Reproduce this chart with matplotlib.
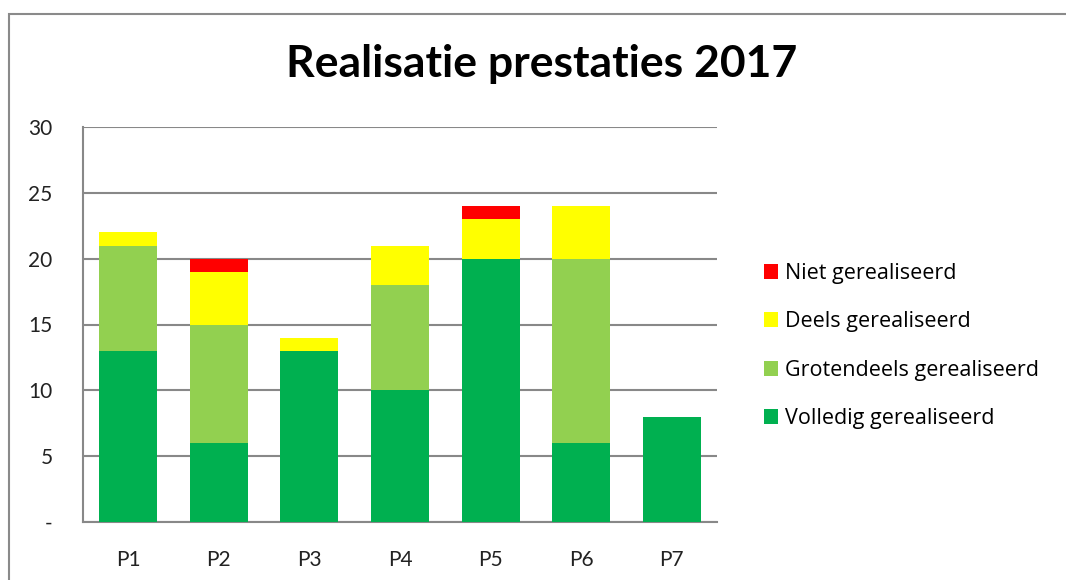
import matplotlib
matplotlib.use("Agg")
import matplotlib.pyplot as plt
from matplotlib.patches import Rectangle, Patch
import numpy as np

categories = ["P1", "P2", "P3", "P4", "P5", "P6", "P7"]
volledig = [13, 6, 13, 10, 20, 6, 8]
grotendeels = [8, 9, 0, 8, 0, 14, 0]
deels = [1, 4, 1, 3, 3, 4, 0]
niet = [0, 1, 0, 0, 1, 0, 0]
series_names = ["Volledig gerealiseerd", "Grotendeels gerealiseerd",
                "Deels gerealiseerd", "Niet gerealiseerd"]
colors = ["#00B050", "#92D050", "#FFFF00", "#FF0000"]
yticks = [0, 5, 10, 15, 20, 25, 30]
ytick_labels = ["-", "5", "10", "15", "20", "25", "30"]
title = "Realisatie prestaties 2017"

plt.rcParams['font.family'] = ['Lato', 'DejaVu Sans']

fig = plt.figure(figsize=(10.66, 5.8), dpi=100)
fig.patch.set_facecolor("white")

# outer chart frame (cropped at right/bottom)
W, H = 1066, 580
frame = Rectangle((9 / W, -0.1), 1.2, 1 - 14 / H + 0.1, transform=fig.transFigure,
                  fill=False, edgecolor="#8a8a8a", linewidth=1.5, clip_on=False)
fig.patches.append(frame)

ax = fig.add_axes([83 / W, 1 - 522 / H, (717 - 83) / W, (522 - 127) / H])
x = np.arange(len(categories))
data = [volledig, grotendeels, deels, niet]
bottom = np.zeros(len(categories))
for vals, name, c in zip(data, series_names, colors):
    ax.bar(x, vals, width=0.64, bottom=bottom, color=c, label=name, zorder=3)
    bottom += np.array(vals)

ax.set_xlim(-0.5, len(categories) - 0.5)
ax.set_ylim(0, 30)
ax.set_yticks(yticks)
ax.set_yticklabels(ytick_labels)
ax.set_xticks(x)
ax.set_xticklabels(categories)
ax.tick_params(axis='both', length=0, labelsize=15, colors="#222222")
ax.tick_params(axis='y', pad=22)
ax.tick_params(axis='x', pad=20)
ax.yaxis.grid(True, color="#888888", linewidth=1.5, zorder=0)
for s in ["top", "right"]:
    ax.spines[s].set_visible(False)
for s in ["left", "bottom"]:
    ax.spines[s].set_color("#888888")
    ax.spines[s].set_linewidth(1.5)

fig.text(542 / W, 1 - 64 / H, title, ha="center", va="center",
         fontsize=32, fontweight="bold", color="black")

handles = [Patch(facecolor=c, edgecolor="none") for c in colors][::-1]
labels = series_names[::-1]
fig.legend(handles, labels, loc="center left",
           bbox_to_anchor=(755 / W, 1 - 346 / H), frameon=False,
           prop={'family': ['Open Sans', 'DejaVu Sans'], 'size': 15.5},
           handlelength=0.68, handleheight=0.68,
           handletextpad=0.33, labelspacing=1.27, borderaxespad=0)

fig.savefig("out.png", dpi=100, facecolor="white")
